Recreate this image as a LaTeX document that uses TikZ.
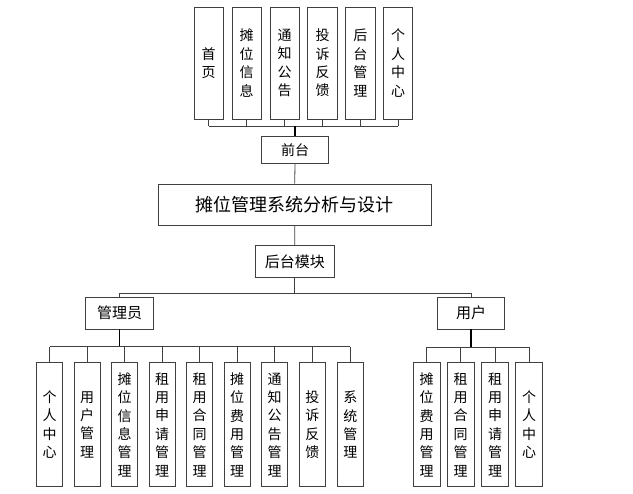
\documentclass[tikz,border=0pt]{standalone}
\usepackage{fontspec}
\newfontfamily\cjk{Noto Sans CJK SC}
\begin{document}
\begin{tikzpicture}[x=1pt,y=-1pt,
  box/.style={draw=black!75,line width=0.9pt,fill=white,inner sep=0pt,align=center,font=\cjk\fontsize{14}{18.4}\selectfont},
  vbox/.style={box,minimum width=29.5pt,minimum height=112pt},
  cbox/.style={box,minimum width=26pt,minimum height=124pt},
  hbox/.style={box,minimum height=27pt},
  link/.style={draw=black!75,line width=0.8pt},
  trunk/.style={draw=black,line width=1.6pt}]
\useasboundingbox (0,0) rectangle (633,494);
% top level
\node[vbox] (t1) at (208.7,63) {首\\页};
\node[vbox] (t2) at (246.7,63) {摊\\位\\信\\息};
\node[vbox] (t3) at (284.7,63) {通\\知\\公\\告};
\node[vbox] (t4) at (322.5,63) {投\\诉\\反\\馈};
\node[vbox] (t5) at (360.4,63) {后\\台\\管\\理};
\node[vbox] (t6) at (398.0,63) {个\\人\\中\\心};
\node[hbox,minimum width=66.6pt] (qt) at (295,150) {前台};
\node[box,minimum width=272.7pt,minimum height=41pt,font=\cjk\fontsize{18}{22}\selectfont] (main) at (294.7,204.5) {摊位管理系统分析与设计};
\node[hbox,minimum width=78.3pt,minimum height=31.6pt,font=\cjk\fontsize{15}{18}\selectfont] (ht) at (294.8,261.5) {后台模块};
\node[hbox,minimum width=67.6pt,minimum height=31.7pt,font=\cjk\fontsize{15}{18}\selectfont] (admin) at (119.5,313.2) {管理员};
\node[hbox,minimum width=66.6pt,minimum height=31.7pt,font=\cjk\fontsize{15}{18}\selectfont] (user) at (471,313.2) {用户};
% admin children
\node[cbox] (a1) at (49.7,424.7) {个\\人\\中\\心};
\node[cbox] (a2) at (87.2,424.7) {用\\户\\管\\理};
\node[cbox] (a3) at (124.7,424.7) {摊\\位\\信\\息\\管\\理};
\node[cbox] (a4) at (162.0,424.7) {租\\用\\申\\请\\管\\理};
\node[cbox] (a5) at (199.7,424.7) {租\\用\\合\\同\\管\\理};
\node[cbox] (a6) at (237.0,424.7) {摊\\位\\费\\用\\管\\理};
\node[cbox] (a7) at (274.7,424.7) {通\\知\\公\\告\\管\\理};
\node[cbox] (a8) at (312.3,424.7) {投\\诉\\反\\馈};
\node[cbox] (a9) at (350.3,424.7) {系\\统\\管\\理};
% user children
\node[cbox,minimum width=26.7pt] (u1) at (426.7,424.7) {摊\\位\\费\\用\\管\\理};
\node[cbox,minimum width=26.7pt] (u2) at (460.7,424.7) {租\\用\\合\\同\\管\\理};
\node[cbox,minimum width=26.7pt] (u3) at (495.0,424.7) {租\\用\\申\\请\\管\\理};
\node[cbox,minimum width=26.7pt] (u4) at (529.0,424.7) {个\\人\\中\\心};
% connectors top
\coordinate (tbus) at (295,126);
\foreach \n in {t1,t2,t3,t4,t5,t6} \draw[link] (\n.south) -- (\n.south |- tbus);
\draw[link] (t1.south |- tbus) -- (t6.south |- tbus);
\draw[trunk] (tbus) -- (qt.north);
\draw[link] (qt.south) -- (main.north);
\draw[link] (main.south) -- (ht.north);
% second level
\coordinate (mbus) at (294.8,293.3);
\draw[link] (ht.south) -- (mbus);
\draw[link] (admin.north) -- (admin.north |- mbus) -- (user.north |- mbus) -- (user.north);
% admin bus
\coordinate (abus) at (119.5,346.7);
\draw[trunk] (admin.south) -- (abus);
\foreach \n in {a1,a2,a3,a4,a5,a6,a7,a8,a9} \draw[link] (\n.north) -- (\n.north |- abus);
\draw[link] (a1.north |- abus) -- (a9.north |- abus);
% user bus
\coordinate (ubus) at (471,347.3);
\draw[trunk] (user.south) -- (ubus);
\foreach \n in {u1,u2,u3,u4} \draw[link] (\n.north) -- (\n.north |- ubus);
\draw[link] (u1.north |- ubus) -- (u4.north |- ubus);
\end{tikzpicture}
\end{document}
